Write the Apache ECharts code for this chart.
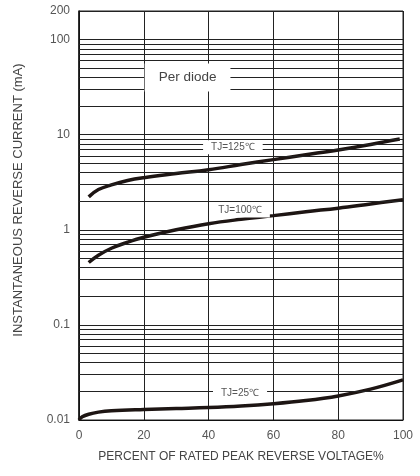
<!DOCTYPE html>
<html><head><meta charset="utf-8">
<script src="https://cdn.jsdelivr.net/npm/echarts@6/dist/echarts.min.js"></script>
<style>html,body{margin:0;padding:0;background:#fff}#c{width:420px;height:476px}</style>
</head><body><div id="c"></div>
<script>
// ---- data ----
var xTicks = [0, 20, 40, 60, 80, 100];
var yTicks = [0.01, 0.1, 1, 10, 100, 200];
var minorGrid = [0.02,0.03,0.04,0.05,0.06,0.07,0.08,0.09,
                 0.2,0.3,0.4,0.5,0.6,0.7,0.8,0.9,
                 2,3,4,5,6,7,8,9,
                 20,30,40,50,60,70,80,90];
var x125 = [3, 6, 10, 15, 20, 30, 40, 50, 60, 70, 80, 90, 99];
var y125 = [2.22, 2.65, 2.97, 3.3, 3.53, 3.9, 4.29, 4.85, 5.47, 6.15, 6.92, 7.9, 9.0];
var x100 = [3, 6, 10, 15, 20, 30, 40, 50, 60, 70, 80, 90, 100];
var y100 = [0.453, 0.54, 0.64, 0.74, 0.834, 1.0, 1.16, 1.29, 1.41, 1.55, 1.69, 1.87, 2.07];
var x25 = [0, 1, 3, 6, 10, 20, 30, 40, 50, 60, 70, 80, 90, 100];
var y25 = [0.0100, 0.0108, 0.0115, 0.0121, 0.0125, 0.0129, 0.0132, 0.0135, 0.0140, 0.0148, 0.0160, 0.0179, 0.0211, 0.0264];
var curveLabels = [
  {text: 'TJ=125\u2103', x: 47.5, y: 7.4},
  {text: 'TJ=100\u2103', x: 49.7, y: 1.6},
  {text: 'TJ=25\u2103',  x: 49.7, y: 0.019}
];
var noteText = 'Per diode';
var notePos = [33.5, 40];
var xName = 'PERCENT OF RATED PEAK REVERSE VOLTAGE%';
var yName = 'INSTANTANEOUS REVERSE CURRENT (mA)';

function zip(xs, ys){ return xs.map(function(x,i){ return [x, ys[i]]; }); }

var FONT = 'Liberation Sans';
var chart = echarts.init(document.getElementById('c'), null, {renderer:'canvas'});

var curveStyle = {color:'#1d1513', width:3.5};
var series = [
  {type:'line', data: zip(x125,y125), smooth:0.4, showSymbol:false, lineStyle:curveStyle, z:3},
  {type:'line', data: zip(x100,y100), smooth:0.4, showSymbol:false, lineStyle:curveStyle, z:3},
  {type:'line', data: zip(x25,y25), smooth:0.4, showSymbol:false, lineStyle:curveStyle, z:3},
  {type:'line', data: [], z:1,
   markLine:{silent:true, symbol:'none', animation:false, label:{show:false},
     lineStyle:{color:'#222', width:1, type:'solid'},
     data: minorGrid.map(function(v){ return {yAxis:v}; })}
  },
  {type:'scatter', data: [], z:10,
   markPoint:{silent:true, animation:false, symbol:'rect', symbolSize:0,
     data: curveLabels.map(function(l){
       return {coord:[l.x, l.y], value:l.text,
         label:{show:true, formatter:l.text, position:'inside', color:'#555', fontFamily:FONT, fontSize:10,
           backgroundColor:'#fff', padding:[2,8,2,8]}};
     }).concat([{coord:notePos, value:noteText,
         label:{show:true, formatter:noteText, position:'inside', color:'#444', fontFamily:FONT, fontSize:13.5,
           backgroundColor:'#fff', padding:[7,14,7,14]}}])
   }}
];

chart.setOption({
  animation:false,
  backgroundColor:'#fff',
  grid:{left:79, right:17, top:11, bottom:56, show:true, borderColor:'#222', borderWidth:1},
  graphic:[{type:'text', x:18, y:200, rotation:Math.PI/2,
    style:{text:yName, fill:'#444', font:'13px "Liberation Sans"', textAlign:'center', textVerticalAlign:'middle'}}],
  xAxis:{type:'value', min:0, max:100, interval:20,
    name:xName, nameLocation:'middle', nameGap:31,
    nameTextStyle:{color:'#444', fontFamily:FONT, fontSize:12},
    axisLine:{show:true, lineStyle:{color:'#111', width:1}},
    axisTick:{show:false},
    axisLabel:{color:'#555', fontFamily:FONT, fontSize:12, margin:10,
      formatter:function(v){ return xTicks.indexOf(v)>=0 ? String(v) : ''; }},
    splitLine:{show:true, lineStyle:{color:'#222', width:1}}
  },
  yAxis:{type:'log', logBase:10, min:0.01, max:200,
    axisLine:{show:true, lineStyle:{color:'#111', width:1.5}},
    axisTick:{show:false},
    axisLabel:{color:'#555', fontFamily:FONT, fontSize:12, margin:9, showMaxLabel:true,
      formatter:function(v){ var n = parseFloat(Number(v).toPrecision(6)); return yTicks.indexOf(n)>=0 ? String(n) : ''; }},
    splitLine:{show:true, lineStyle:{color:'#222', width:1}}
  },
  series: series
});
</script></body></html>
